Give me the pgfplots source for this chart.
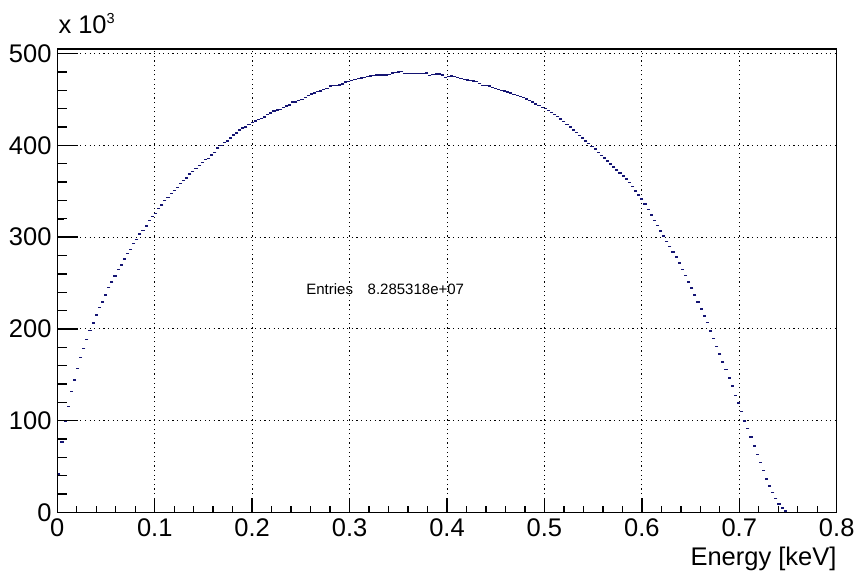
\documentclass[border=0pt]{standalone}
\usepackage{pgfplots}
\pgfplotsset{compat=1.18}
\usepackage{fontspec}
\setmainfont{Liberation Sans}
\definecolor{histblue}{RGB}{20,20,115}
\pgfplotsset{
  rootframe/.style={
    scale only axis, width=779.4pt, height=463.5pt,
    xmin=0, xmax=0.8, ymin=0, ymax=505,
    tick pos=left, tick align=inside,
    axis line style={line width=1.4pt, black},
    every tick/.style={line width=1.4pt, black},
    minor x tick num=4, minor y tick num=4,
  }
}
\begin{document}
\begin{tikzpicture}
\begin{axis}[rootframe,
  xtick={0,0.1,0.2,0.3,0.4,0.5,0.6,0.7,0.8},
  xticklabels={0,0.1,0.2,0.3,0.4,0.5,0.6,0.7,0.8},
  ytick={0,100,200,300,400,500},
  yticklabels={0,100,200,300,400,500},
  major tick length=15pt, minor tick length=7pt,
  grid=major,
  major grid style={black, line width=1pt, dash pattern=on 1.2pt off 3.4pt},
  xticklabel style={font=\fontsize{25.5}{26}\selectfont, anchor=north, inner sep=0pt, yshift=-5.5pt},
  yticklabel style={font=\fontsize{25.5}{26}\selectfont, anchor=east, inner sep=0pt, xshift=-5.6pt},
  xlabel={Energy [keV]},
  xlabel style={font=\fontsize{25.5}{26}\selectfont, at={(rel axis cs:1,0)}, anchor=base east, yshift=-52.5pt, inner sep=0pt},
  clip=false,
]
\addplot[only marks, mark=-, mark size=1.56pt, color=histblue, mark options={line width=1.5pt}] table {
0.0016 42
0.0048 77
0.0080 99
0.0112 115.4
0.0144 131.7
0.0176 144.5
0.0208 156.8
0.0240 168.8
0.0272 178.6
0.0304 188.5
0.0336 198.3
0.0368 206.6
0.0400 215.4
0.0432 223.3
0.0464 229.6
0.0496 237.2
0.0528 245.2
0.0560 251.4
0.0592 257.9
0.0624 264.5
0.0656 269.9
0.0688 276.1
0.0720 282.2
0.0752 286.3
0.0784 293.1
0.0816 297.2
0.0848 303.4
0.0880 307.3
0.0912 312.1
0.0944 317.9
0.0976 322.3
0.1008 325.9
0.1040 331
0.1072 335.3
0.1104 340
0.1136 343
0.1168 347.3
0.1200 350.9
0.1232 354.2
0.1264 358.6
0.1296 361.8
0.1328 364.6
0.1360 368.9
0.1392 371.8
0.1424 374.8
0.1456 378
0.1488 381.3
0.1520 384.6
0.1552 385.7
0.1584 389.3
0.1616 392.5
0.1648 396.9
0.1680 399.8
0.1712 403.1
0.1744 404.5
0.1776 408.1
0.1808 411.4
0.1840 413.6
0.1872 416.5
0.1904 418.7
0.1936 420.1
0.1968 423
0.2000 424.9
0.2032 426.6
0.2064 428.3
0.2096 429.5
0.2128 431
0.2160 433.6
0.2192 435.3
0.2224 437.2
0.2256 438.3
0.2288 439
0.2320 441.5
0.2352 442.9
0.2384 444
0.2416 447
0.2448 447
0.2480 448.8
0.2512 449.9
0.2544 452.1
0.2576 454.3
0.2608 456
0.2640 456.8
0.2672 458.9
0.2704 459.3
0.2736 460.8
0.2768 462.2
0.2800 464.7
0.2832 465.1
0.2864 465.1
0.2896 465.8
0.2928 466.9
0.2960 469.1
0.2992 469.5
0.3024 470.6
0.3056 472
0.3088 472.7
0.3120 473.5
0.3152 474
0.3184 475
0.3216 475.5
0.3248 476
0.3280 476.7
0.3312 476.5
0.3344 476.7
0.3376 476.8
0.3408 477
0.3440 478.9
0.3472 479.2
0.3504 480
0.3536 480.7
0.3568 478.1
0.3600 478.3
0.3632 478.5
0.3664 478.2
0.3696 478.5
0.3728 478.3
0.3760 478.1
0.3792 478.9
0.3824 476.3
0.3856 477.2
0.3888 477.8
0.3920 477.5
0.3952 476.5
0.3984 474.1
0.4016 475.2
0.4048 475.5
0.4080 475.2
0.4112 474.2
0.4144 472.8
0.4176 472
0.4208 471.4
0.4240 470.9
0.4272 470.3
0.4304 469.8
0.4336 467.5
0.4368 465.4
0.4400 465.1
0.4432 464.7
0.4464 463.3
0.4496 461.8
0.4528 461
0.4560 460
0.4592 459.2
0.4624 458.2
0.4656 457
0.4688 455.6
0.4720 454.5
0.4752 453.5
0.4784 452
0.4816 450.6
0.4848 449
0.4880 447
0.4912 445
0.4944 443.5
0.4976 441.5
0.5008 440
0.5040 438
0.5072 436
0.5104 433.5
0.5136 431.5
0.5168 428.8
0.5200 426
0.5232 423
0.5264 420
0.5296 417
0.5328 414
0.5360 411
0.5392 408
0.5424 405
0.5456 402
0.5488 399
0.5520 396
0.5552 392.5
0.5584 389
0.5616 386
0.5648 383
0.5680 379.5
0.5712 376.5
0.5744 373
0.5776 370
0.5808 366.5
0.5840 363.5
0.5872 359.5
0.5904 355
0.5936 350.5
0.5968 346
0.6000 341.5
0.6032 336
0.6064 330
0.6096 324
0.6128 318
0.6160 312.5
0.6192 306.8
0.6224 301
0.6256 295.4
0.6288 289.7
0.6320 284.1
0.6352 278.6
0.6384 272.1
0.6416 264.8
0.6448 258.2
0.6480 251.4
0.6512 244.8
0.6544 236.9
0.6576 229.2
0.6608 221.9
0.6640 214.3
0.6672 207
0.6704 197.9
0.6736 189.5
0.6768 180.8
0.6800 172.8
0.6832 164.1
0.6864 155.7
0.6896 146.7
0.6928 137.6
0.6960 127.4
0.6992 119.4
0.7024 109.9
0.7056 99.8
0.7088 91.4
0.7120 82
0.7152 72.2
0.7184 63
0.7216 54.3
0.7248 45.6
0.7280 36.5
0.7312 28.9
0.7344 22
0.7376 15
0.7408 9.3
0.7440 4.9
0.7472 1.6
};
\node[anchor=base west, inner sep=0pt, font=\fontsize{15}{15}\selectfont] at (axis cs:0.2554,237.9) {Entries};
\node[anchor=base west, inner sep=0pt, font=\fontsize{15}{15}\selectfont] at (axis cs:0.3184,237.9) {8.285318e+07};
\node[anchor=base west, inner sep=0pt, font=\fontsize{25.5}{26}\selectfont] at ([xshift=1pt,yshift=16pt]rel axis cs:0,1) {x 10\raisebox{10pt}{\fontsize{14.5}{15}\selectfont 3}};
\end{axis}
\begin{axis}[rootframe,
  xtick=\empty,
  ytick={0,100,200,300,400,500},
  yticklabels={,,,,,},
  major tick length=21pt, minor tick length=10pt,
]
\end{axis}
\path ([shift={(-57.3pt,-63.5pt)}]current axis.south west) rectangle ([shift={(23.3pt,49pt)}]current axis.north east);
\end{tikzpicture}
\end{document}
